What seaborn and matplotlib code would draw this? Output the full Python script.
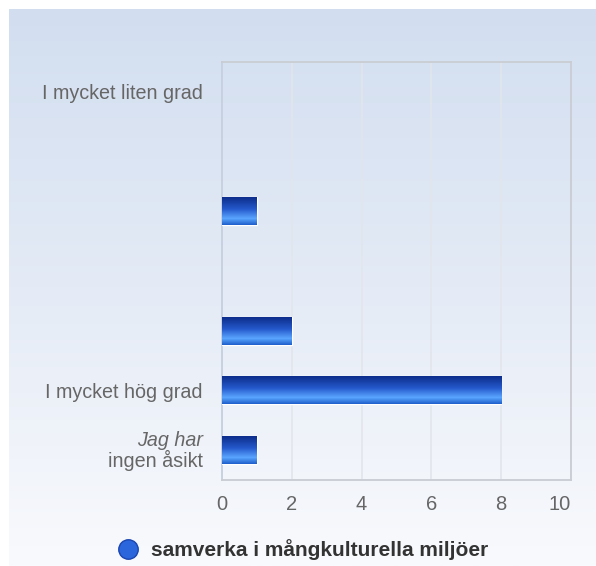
import numpy as np
import pandas as pd
import seaborn as sns
import matplotlib.pyplot as plt
from matplotlib.colors import LinearSegmentedColormap
from matplotlib.lines import Line2D
from matplotlib.transforms import offset_copy

categories = ["c1", "c2", "c3", "c4", "c5", "c6", "c7"]
tick_labels = ["I mycket liten grad", "", "", "", "", "I mycket hög grad", ""]
values = [0, 0, 1, 0, 2, 8, 1]
series_name = "samverka i mångkulturella miljöer"

sns.set_theme(style="white")
plt.rcParams['font.family'] = ['Liberation Sans', 'DejaVu Sans']

fig = plt.figure(figsize=(5.96, 5.66), dpi=100)

# background gradient panel
bg = fig.add_axes([9 / 596, 0, 1 - 9 / 596, 1 - 9 / 566], zorder=-10)
grad = np.linspace(0, 1, 256).reshape(-1, 1)
bg_cmap = LinearSegmentedColormap.from_list("bg", ["#d2def0", "#e4ebf6", "#f9fafd"])
bg.imshow(grad, aspect="auto", cmap=bg_cmap, extent=[0, 1, 0, 1], origin="upper")
bg.axis("off")

ax = fig.add_axes([222 / 596, 1 - 480 / 566, 349 / 596, 418 / 566])
ax.patch.set_alpha(0)

df = pd.DataFrame({"cat": categories, "value": values})
sns.barplot(data=df, x="value", y="cat", orient="h", width=0.47,
            color="#2a62d0", ax=ax, zorder=3)

ax.set_xlim(0, 10)
ax.set_ylim(len(categories) - 0.5, -0.5)
ax.set_xticks(range(0, 11, 2))
ax.set_xlabel("")
ax.set_ylabel("")
ax.set_yticks(range(len(categories)))
ax.set_yticklabels(tick_labels)
ax.tick_params(axis="y", length=0, pad=14, labelsize=14.2, labelcolor="#666666")
ax.tick_params(axis="x", length=0, pad=11, labelsize=14.5, labelcolor="#666666")
ax.get_xticklabels()[-1].set_horizontalalignment("right")
ax.grid(axis="x", color="#e2e6ec", linewidth=1.2, zorder=0)
ax.set_axisbelow(True)
for side, sp in ax.spines.items():
    sp.set_visible(True)
    sp.set_color("#c9cdd3")
    sp.set_linewidth(1.3)
ax.spines["left"].set_color("#c5cfdf")

# gradient fill on the bars
bar_cmap = LinearSegmentedColormap.from_list(
    "bar", [(0, "#0b2a86"), (0.45, "#2559cc"), (0.78, "#5aa6ff"), (1, "#1f5fcc")])
bar_grad = np.linspace(0, 1, 64).reshape(-1, 1)
for p in list(ax.patches):
    w = p.get_width()
    if w <= 0:
        p.set_visible(False)
        continue
    x0, y0 = p.get_x(), p.get_y()
    h = p.get_height()
    im = ax.imshow(bar_grad, aspect="auto", cmap=bar_cmap,
                   extent=[x0, x0 + w, y0 + h, y0], origin="upper", zorder=4)
    im.set_clip_path(p)
    p.set_edgecolor("white")
    p.set_linewidth(1.0)
ax.set_xlim(0, 10)
ax.set_ylim(len(categories) - 0.5, -0.5)

# last category label: italic first line
trans = offset_copy(ax.get_yaxis_transform(), fig=fig, x=-19, y=0, units="dots")
ax.text(0, 6, "Jag har", transform=trans, ha="right", va="bottom",
        fontsize=14.2, color="#666666", style="italic")
ax.text(0, 6, "ingen åsikt", transform=trans, ha="right", va="top",
        fontsize=14.2, color="#666666")

handle = Line2D([], [], marker="o", linestyle="", markersize=14,
                markerfacecolor="#2c66dc", markeredgecolor="#1a45b0")
fig.legend([handle], [series_name], loc="center",
           bbox_to_anchor=(0.5, 1 - 550 / 566), frameon=False,
           handletextpad=0.1, prop={"weight": "bold", "size": 15},
           labelcolor="#333333")

fig.savefig("out.png", dpi=100)
